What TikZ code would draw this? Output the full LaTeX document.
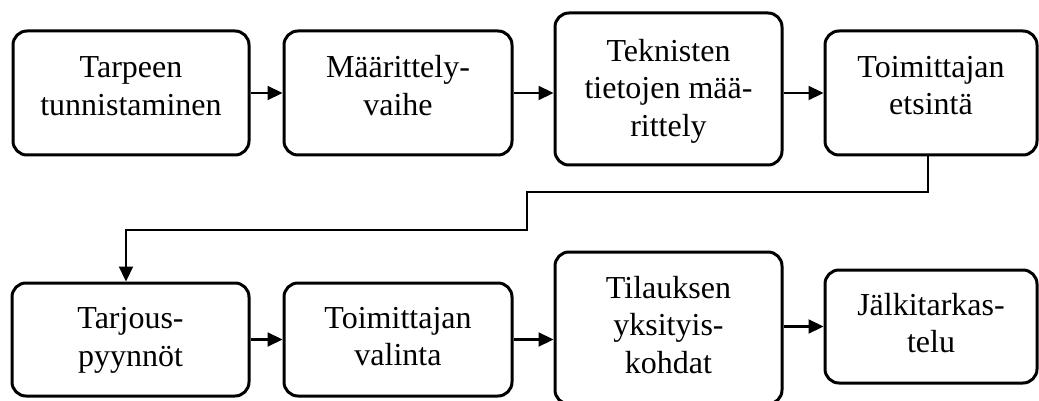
\documentclass[tikz,border=0pt]{standalone}
\usepackage{fontspec}
\setmainfont{Liberation Serif}
\usetikzlibrary{arrows.meta}
\begin{document}
\begin{tikzpicture}[x=1pt,y=-1pt,
  box/.style={draw, line width=3pt, rounded corners=14pt, inner sep=0pt},
  txt/.style={align=center, font=\fontsize{32}{37.5}\selectfont, inner sep=0pt},
  arr/.style={line width=2.2pt, -{Triangle[length=15pt,width=14pt]}}]
\useasboundingbox (0,0) rectangle (1039,401);
\clip (0,0) rectangle (1039,401);
% boxes
\node[box, minimum width=236pt, minimum height=124pt] (b1) at (131,93) {};
\node[box, minimum width=228pt, minimum height=124pt] (b2) at (398,93) {};
\node[box, minimum width=227pt, minimum height=152pt] (b3) at (668.5,89) {};
\node[box, minimum width=212pt, minimum height=124pt] (b4) at (931,93) {};
\node[box, minimum width=237pt, minimum height=113pt] (b5) at (130.5,339.5) {};
\node[box, minimum width=228pt, minimum height=113pt] (b6) at (398,339.5) {};
\node[box, minimum width=227pt, minimum height=152pt] (b7) at (668.5,328) {};
\node[box, minimum width=212pt, minimum height=113pt] (b8) at (931,326.5) {};
% texts
\node[txt] (t1) at ([yshift=7pt]b1.center) {Tarpeen\\tunnistaminen};
\node[txt] (t2) at ([yshift=7.5pt]b2.center) {Määrittely-\\vaihe};
\node[txt] (t3) at ([yshift=-2pt]b3.center) {Teknisten\\tietojen mää-\\rittely};
\node[txt] (t4) at ([yshift=7.5pt]b4.center) {Toimittajan\\etsintä};
\node[txt] (t5) at ([yshift=-1pt]b5.center) {Tarjous-\\pyynnöt};
\node[txt] (t6) at ([yshift=3pt]b6.center) {Toimittajan\\valinta};
\node[txt] (t7) at ([yshift=3pt]b7.center) {Tilauksen\\yksityis-\\kohdat};
\node[txt] (t8) at ([yshift=3.5pt]b8.center) {Jälkitarkas-\\telu};
% connectors
\draw[arr] (b1.east) -- (b2.west);
\draw[arr] (b2.east) -- (b2.east -| b3.west);
\draw[arr] (b3.east |- b4.west) -- (b4.west);
\draw[arr] (b5.east) -- (b6.west);
\draw[arr] (b6.east) -- (b6.east -| b7.west);
\draw[arr] (b7.east |- b8.west) -- (b8.west);
\coordinate (k1) at (928,192);
\coordinate (k2) at (527,192);
\coordinate (k3) at (527,230);
\coordinate (k4) at (126,230);
\draw[arr] (b4.south -| k1) -- (k1) -- (k2) -- (k3) -- (k4) -- (k4 |- b5.north);
\end{tikzpicture}
\end{document}
